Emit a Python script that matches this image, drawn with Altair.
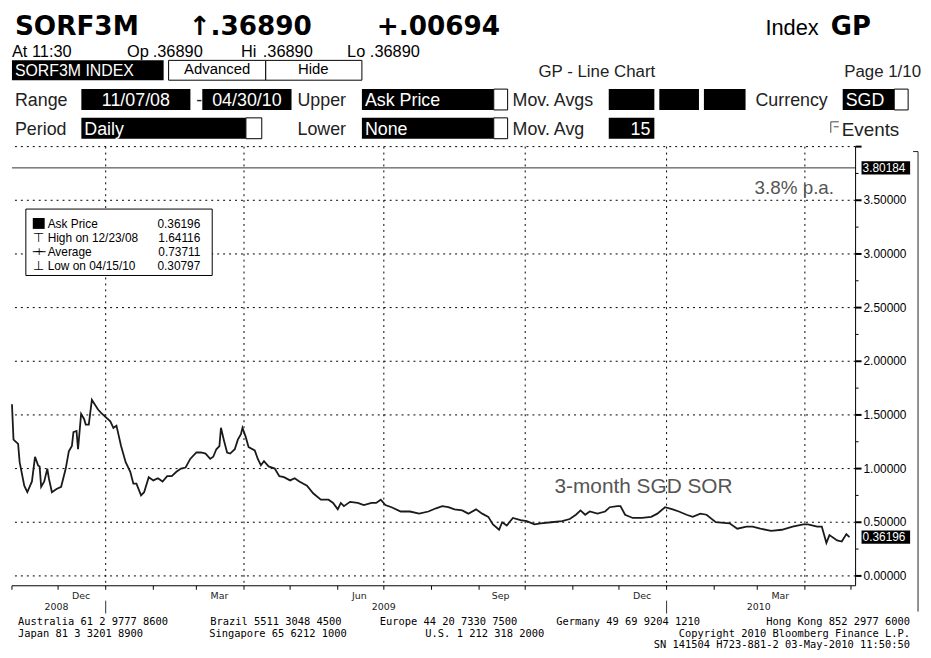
import altair as alt
import pandas as pd

# ---------------- data ----------------
dates = [
    "2008-11-01", "2008-11-02", "2008-11-05", "2008-11-06", "2008-11-09", "2008-11-11", "2008-11-14",
    "2008-11-16", "2008-11-18", "2008-11-19", "2008-11-20", "2008-11-22", "2008-11-24", "2008-11-25",
    "2008-11-27", "2008-11-30",
    "2008-12-03", "2008-12-06", "2008-12-08", "2008-12-10", "2008-12-11", "2008-12-13", "2008-12-14",
    "2008-12-16", "2008-12-18", "2008-12-19", "2008-12-21", "2008-12-23", "2008-12-27", "2008-12-29",
    "2009-01-01", "2009-01-04", "2009-01-06", "2009-01-08", "2009-01-11", "2009-01-14", "2009-01-17",
    "2009-01-19", "2009-01-21", "2009-01-24", "2009-01-26", "2009-01-29",
    "2009-02-01", "2009-02-04", "2009-02-07", "2009-02-10", "2009-02-13", "2009-02-16", "2009-02-19",
    "2009-02-22", "2009-02-25",
    "2009-03-01", "2009-03-04", "2009-03-07", "2009-03-10", "2009-03-12", "2009-03-14", "2009-03-16",
    "2009-03-17", "2009-03-19", "2009-03-21", "2009-03-23", "2009-03-26", "2009-03-28", "2009-03-30",
    "2009-03-31",
    "2009-04-02", "2009-04-04", "2009-04-08", "2009-04-10", "2009-04-12", "2009-04-14", "2009-04-17",
    "2009-04-21", "2009-04-24", "2009-04-27",
    "2009-05-01", "2009-05-04", "2009-05-07", "2009-05-12", "2009-05-16", "2009-05-21", "2009-05-26",
    "2009-05-29",
    "2009-06-01", "2009-06-03", "2009-06-05", "2009-06-09", "2009-06-14", "2009-06-18", "2009-06-23",
    "2009-06-26", "2009-06-29",
    "2009-07-02", "2009-07-06", "2009-07-12", "2009-07-18", "2009-07-24", "2009-07-30",
    "2009-08-04", "2009-08-08", "2009-08-12", "2009-08-16", "2009-08-21", "2009-08-25", "2009-08-30",
    "2009-09-03", "2009-09-07", "2009-09-10", "2009-09-14", "2009-09-16", "2009-09-19", "2009-09-23",
    "2009-09-28",
    "2009-10-02", "2009-10-07", "2009-10-11", "2009-10-18", "2009-10-25", "2009-10-30",
    "2009-11-03", "2009-11-06", "2009-11-09", "2009-11-12", "2009-11-17", "2009-11-22", "2009-11-25",
    "2009-11-30",
    "2009-12-02", "2009-12-05", "2009-12-10", "2009-12-16", "2009-12-22", "2009-12-26", "2009-12-31",
    "2010-01-05", "2010-01-09", "2010-01-14", "2010-01-18", "2010-01-23", "2010-01-27",
    "2010-02-02", "2010-02-11", "2010-02-16", "2010-02-22", "2010-02-26",
    "2010-03-03", "2010-03-10", "2010-03-17", "2010-03-24", "2010-03-31",
    "2010-04-03", "2010-04-09", "2010-04-12", "2010-04-15", "2010-04-17", "2010-04-22", "2010-04-25",
    "2010-04-28", "2010-04-30",
]
ask_price = [
    1.60, 1.27, 1.23, 1.06, 0.84, 0.78, 0.88, 1.11, 1.03, 1.02, 0.83, 0.88, 1.00, 0.91, 0.78, 0.81,
    0.83, 1.00, 1.16, 1.21, 1.34, 1.35, 1.18, 1.51, 1.46, 1.41, 1.41, 1.64116, 1.55, 1.52,
    1.48, 1.44, 1.38, 1.40, 1.21, 1.06, 0.97, 0.86, 0.86, 0.75, 0.78, 0.92,
    0.89, 0.91, 0.88, 0.93, 0.93, 0.97, 1.00, 1.01, 1.09,
    1.15, 1.15, 1.14, 1.09, 1.11, 1.18, 1.21, 1.38, 1.26, 1.15, 1.14, 1.18, 1.27, 1.32, 1.38,
    1.30, 1.20, 1.17, 1.09, 1.03, 1.07, 1.02, 1.00, 0.93, 0.92,
    0.89, 0.91, 0.88, 0.84, 0.77, 0.71, 0.71, 0.68,
    0.62, 0.68, 0.65, 0.69, 0.68, 0.66, 0.68, 0.68, 0.71,
    0.66, 0.64, 0.60, 0.60, 0.58, 0.60,
    0.63, 0.65, 0.64, 0.62, 0.61, 0.58, 0.62,
    0.58, 0.55, 0.48, 0.43, 0.50, 0.47, 0.54, 0.52,
    0.51, 0.48, 0.49, 0.50, 0.51, 0.53,
    0.57, 0.61, 0.57, 0.60, 0.58, 0.60, 0.64, 0.65,
    0.65, 0.57, 0.54, 0.54, 0.55, 0.58, 0.64,
    0.62, 0.60, 0.57, 0.55, 0.58, 0.57,
    0.50, 0.49, 0.44, 0.46, 0.46,
    0.44, 0.42, 0.43, 0.46, 0.48,
    0.48, 0.46, 0.46, 0.30797, 0.38, 0.33, 0.32, 0.39, 0.36196,
]

y_ticks = [0.0, 0.5, 1.0, 1.5, 2.0, 2.5, 3.0, 3.5, 4.0]
y_labels = ["0.00000", "0.50000", "1.00000", "1.50000", "2.00000", "2.50000", "3.00000", "3.50000", ""]
y_minor = [0.25, 0.75, 1.25, 1.75, 2.25, 2.75, 3.25, 3.75]
month_ticks = ["2008-11-01", "2008-12-01", "2009-01-01", "2009-02-01", "2009-03-01", "2009-04-01",
               "2009-05-01", "2009-06-01", "2009-07-01", "2009-08-01", "2009-09-01", "2009-10-01",
               "2009-11-01", "2009-12-01", "2010-01-01", "2010-02-01", "2010-03-01", "2010-04-01",
               "2010-05-01"]
quarter_lines = ["2009-01-01", "2009-04-01", "2009-07-01", "2009-10-01", "2010-01-01", "2010-04-01"]
month_labels = ["Dec", "Mar", "Jun", "Sep", "Dec", "Mar"]
month_label_dates = ["2008-12-16", "2009-03-16", "2009-06-15", "2009-09-15", "2009-12-16", "2010-03-16"]
year_labels = ["2008", "2009", "2010"]
year_label_dates = ["2008-11-30", "2009-07-01", "2010-03-02"]
year_breaks = ["2009-01-01", "2010-01-01"]
legend_names = ["Ask Price", "High on 12/23/08", "Average", "Low on 04/15/10"]
legend_values = ["0.36196", "1.64116", "0.73711", "0.30797"]
flag_values = [3.80184, 0.36196]
flag_labels = ["3.80184", "0.36196"]
target_rate = 3.80184

# ---------------- layout ----------------
W, H = 851, 443
OX, OY = 12, 145           # page position of the plot origin
SANS = "Liberation Sans"
BOLD = "DejaVu Sans"
MONO = "DejaVu Sans Mono"


def ut(s):
    y, m, d = (int(v) for v in s.split("-"))
    return alt.DateTime(year=y, month=m, date=d, utc=True)


x_scale = alt.Scale(domain=[ut("2008-11-01"), ut("2010-05-04")])
y_scale = alt.Scale(domain=[-0.092, 4.0], nice=False, zero=False)

one = pd.DataFrame({"k": [0]})


def text_at(px, py, s, size=18, color="#222", font=SANS, weight="normal", align="left",
            baseline="alphabetic"):
    return alt.Chart(one).mark_text(text=s, font=font, fontSize=size, color=color, fontWeight=weight,
                                    align=align, baseline=baseline).encode(
        x=alt.value(px - OX), y=alt.value(py - OY))


def box_at(x1, y1, x2, y2, fill="black", stroke=None):
    kw = dict(fill=fill)
    if stroke:
        kw.update(stroke=stroke, strokeWidth=1)
    return alt.Chart(one).mark_rect(**kw).encode(
        x=alt.value(x1 - OX), x2=alt.value(x2 - OX), y=alt.value(y1 - OY), y2=alt.value(y2 - OY))


def seg_at(x1, y1, x2, y2, color="black", width=1):
    return alt.Chart(one).mark_rule(color=color, strokeWidth=width).encode(
        x=alt.value(x1 - OX), x2=alt.value(x2 - OX), y=alt.value(y1 - OY), y2=alt.value(y2 - OY))


layers = []

# horizontal dotted grid (value levels)
ydf = pd.DataFrame({"v": y_ticks, "lab": y_labels})
layers.append(alt.Chart(ydf).mark_rule(color="black", strokeDash=[2, 4], strokeWidth=1).encode(
    y=alt.Y("v:Q", scale=y_scale, axis=None)))
# vertical dotted grid (quarters)
qdf = pd.DataFrame({"d": quarter_lines})
layers.append(alt.Chart(qdf).mark_rule(color="black", strokeDash=[2, 4], strokeWidth=1).encode(
    x=alt.X("d:T", scale=x_scale, axis=None)))

# target rate line
layers.append(alt.Chart(one).mark_rule(color="#333", strokeWidth=1).encode(
    y=alt.YDatum(target_rate, scale=y_scale, axis=None)))

# main series
df = pd.DataFrame({"date": dates, "price": ask_price})
layers.append(alt.Chart(df).mark_line(color="#1a1a1a", strokeWidth=1.8).encode(
    x=alt.X("date:T", scale=x_scale, axis=None),
    y=alt.Y("price:Q", scale=y_scale, axis=None)))

# right value axis (drawn by hand, Bloomberg style)
layers.append(alt.Chart(one).mark_rule(color="black").encode(
    x=alt.value(W), y=alt.value(0), y2=alt.value(H)))
layers.append(alt.Chart(ydf).mark_rule(color="black", strokeWidth=2).encode(
    x=alt.value(W), x2=alt.value(W + 6), y=alt.Y("v:Q", scale=y_scale, axis=None)))
mdf = pd.DataFrame({"v": y_minor})
layers.append(alt.Chart(mdf).mark_rule(color="black", strokeWidth=1).encode(
    x=alt.value(W), x2=alt.value(W + 3), y=alt.Y("v:Q", scale=y_scale, axis=None)))
layers.append(alt.Chart(ydf).mark_text(font=SANS, fontSize=12, color="black", align="left",
                                       baseline="middle").encode(
    x=alt.value(W + 8), y=alt.Y("v:Q", scale=y_scale, axis=None), text="lab:N"))

# bottom time axis
layers.append(alt.Chart(one).mark_rule(color="black").encode(
    x=alt.value(0), x2=alt.value(W), y=alt.value(H)))
mtdf = pd.DataFrame({"d": month_ticks})
layers.append(alt.Chart(mtdf).mark_rule(color="black").encode(
    x=alt.X("d:T", scale=x_scale, axis=None), y=alt.value(H), y2=alt.value(H + 4)))

# flagged price labels on right axis
fdf = pd.DataFrame({"v": flag_values, "lab": flag_labels})
layers.append(alt.Chart(fdf).transform_calculate(top="datum.v + 0.062", bot="datum.v - 0.062")
              .mark_rect(color="black").encode(
    x=alt.value(W + 6), x2=alt.value(W + 55),
    y=alt.Y("top:Q", scale=y_scale, axis=None), y2="bot:Q"))
layers.append(alt.Chart(fdf).mark_text(color="white", font=SANS, fontSize=12, align="left",
                                       baseline="middle").encode(
    x=alt.value(W + 7), y=alt.Y("v:Q", scale=y_scale, axis=None), text="lab:N"))

# month and year labels under the axis
mldf = pd.DataFrame({"d": month_label_dates, "lab": month_labels})
layers.append(alt.Chart(mldf).mark_text(font=BOLD, fontSize=9.5, color="#222", baseline="middle").encode(
    x=alt.X("d:T", scale=x_scale, axis=None), y=alt.value(H + 10), text="lab:N"))
yldf = pd.DataFrame({"d": year_label_dates, "lab": year_labels})
layers.append(alt.Chart(yldf).mark_text(font=BOLD, fontSize=9.5, color="#222", baseline="middle").encode(
    x=alt.X("d:T", scale=x_scale, axis=None), y=alt.value(H + 21), text="lab:N"))
ybdf = pd.DataFrame({"d": year_breaks})
layers.append(alt.Chart(ybdf).mark_rule(color="#333").encode(
    x=alt.X("d:T", scale=x_scale, axis=None), y=alt.value(H + 15), y2=alt.value(H + 28)))

# annotations
layers.append(alt.Chart(one).mark_text(text="3.8% p.a.", font=SANS, fontSize=19, color="#555",
                                       align="right", baseline="middle").encode(
    x=alt.XDatum(ut("2010-04-20"), scale=x_scale, axis=None),
    y=alt.YDatum(3.61, scale=y_scale, axis=None)))
layers.append(alt.Chart(one).mark_text(text="3-month SGD SOR", font=SANS, fontSize=21, color="#555",
                                       align="center", baseline="middle").encode(
    x=alt.XDatum(ut("2009-12-17"), scale=x_scale, axis=None),
    y=alt.YDatum(0.83, scale=y_scale, axis=None)))

# legend box
layers.append(box_at(26, 208, 214, 275, fill="white", stroke="black"))
layers.append(box_at(33, 217, 45, 228, fill="black"))
rows_y = [223, 237, 251, 265]
for name, val, ry in zip(legend_names, legend_values, rows_y):
    layers.append(text_at(48, ry, name, size=12, color="black", baseline="middle"))
    layers.append(text_at(202, ry, val, size=12, color="black", align="right", baseline="middle"))
layers.append(text_at(39, 237, "⊤", size=13, color="black", font=BOLD, align="center", baseline="middle"))
layers.append(seg_at(33, 251, 46, 251))
layers.append(text_at(39.5, 251, "+", size=10, color="black", font=BOLD, align="center", baseline="middle"))
layers.append(text_at(39, 265, "⊥", size=13, color="black", font=BOLD, align="center", baseline="middle"))

# right frame
layers.append(seg_at(926, 150, 926, 614, color="#222"))
layers.append(seg_at(921, 150, 926, 150, color="#222"))

# ---------------- header ----------------
layers.append(text_at(15, 32.5, "SORF3M", size=26.5, color="black", font=BOLD, weight="bold"))
layers.append(text_at(190, 32.5, "↑.36890", size=26.5, color="black", font=BOLD, weight="bold"))
layers.append(text_at(380, 32.5, "+.00694", size=26.5, color="black", font=BOLD, weight="bold"))
layers.append(text_at(772, 32, "Index", size=22, color="black"))
layers.append(text_at(838, 32, "GP", size=26, color="black", font=BOLD, weight="bold"))

layers.append(text_at(12, 54.5, "At 11:30", size=16.5, color="black"))
layers.append(text_at(128, 54.5, "Op", size=16.5, color="black"))
layers.append(text_at(154, 54.5, ".36890", size=16.5, color="black"))
layers.append(text_at(243, 54.5, "Hi", size=16.5, color="black"))
layers.append(text_at(265, 54.5, ".36890", size=16.5, color="black"))
layers.append(text_at(350, 54.5, "Lo", size=16.5, color="black"))
layers.append(text_at(373, 54.5, ".36890", size=16.5, color="black"))

# row 2
layers.append(box_at(12, 58, 165, 78))
layers.append(text_at(15, 74, "SORF3M INDEX", size=16, color="white"))
layers.append(box_at(170, 58, 268, 78, fill="white", stroke="black"))
layers.append(text_at(219, 72, "Advanced", size=15, color="black", align="center"))
layers.append(box_at(268, 58, 365, 78, fill="white", stroke="black"))
layers.append(text_at(316, 72, "Hide", size=15, color="black", align="center"))
layers.append(text_at(602, 75, "GP - Line Chart", size=17, color="#222", align="center"))
layers.append(text_at(929, 75, "Page 1/10", size=17, color="#222", align="right"))

# row 3
layers.append(text_at(15, 104, "Range", size=18))
layers.append(box_at(82, 87, 192, 108))
layers.append(text_at(137, 104, "11/07/08", size=18, color="white", align="center"))
layers.append(text_at(198, 104, "-", size=18))
layers.append(box_at(204, 87, 294, 108))
layers.append(text_at(249, 104, "04/30/10", size=18, color="white", align="center"))
layers.append(text_at(300, 104, "Upper", size=18))
layers.append(box_at(365, 87, 498, 108))
layers.append(text_at(368, 104, "Ask Price", size=18, color="white"))
layers.append(box_at(498, 87, 512, 108, fill="white", stroke="black"))
layers.append(text_at(517, 104, "Mov. Avgs", size=18))
layers.append(box_at(614, 87, 660, 108))
layers.append(box_at(665, 87, 705, 108))
layers.append(box_at(710, 87, 752, 108))
layers.append(text_at(762, 104, "Currency", size=18))
layers.append(box_at(850, 87, 902, 108))
layers.append(text_at(853, 104, "SGD", size=18, color="white"))
layers.append(box_at(902, 87, 916, 108, fill="white", stroke="black"))

# row 4
layers.append(text_at(15, 133, "Period", size=18))
layers.append(box_at(82, 116, 248, 137))
layers.append(text_at(85, 133, "Daily", size=18, color="white"))
layers.append(box_at(248, 116, 264, 137, fill="white", stroke="black"))
layers.append(text_at(300, 133, "Lower", size=18))
layers.append(box_at(365, 116, 498, 137))
layers.append(text_at(368, 133, "None", size=18, color="white"))
layers.append(box_at(498, 116, 512, 137, fill="white", stroke="black"))
layers.append(text_at(517, 133, "Mov. Avg", size=18))
layers.append(box_at(614, 116, 660, 137))
layers.append(text_at(656, 133, "15", size=18, color="white", align="right"))
layers.append(seg_at(838, 120, 846, 120, color="#444"))
layers.append(seg_at(838, 120, 838, 131, color="#444"))
layers.append(seg_at(841, 125, 846, 125, color="#444"))
layers.append(text_at(849, 134, "Events", size=19))

# footer
FS = 10.5
layers.append(text_at(18, 628, "Australia 61 2 9777 8600", size=FS, color="black", font=MONO))
layers.append(text_at(212, 628, "Brazil 5511 3048 4500", size=FS, color="black", font=MONO))
layers.append(text_at(383, 628, "Europe 44 20 7330 7500", size=FS, color="black", font=MONO))
layers.append(text_at(561, 628, "Germany 49 69 9204 1210", size=FS, color="black", font=MONO))
layers.append(text_at(918, 628, "Hong Kong 852 2977 6000", size=FS, color="black", font=MONO,
                      align="right"))
layers.append(text_at(18, 639.5, "Japan 81 3 3201 8900", size=FS, color="black", font=MONO))
layers.append(text_at(211, 639.5, "Singapore 65 6212 1000", size=FS, color="black", font=MONO))
layers.append(text_at(429, 639.5, "U.S. 1 212 318 2000", size=FS, color="black", font=MONO))
layers.append(text_at(918, 639.5, "Copyright 2010 Bloomberg Finance L.P.", size=FS, color="black",
                      font=MONO, align="right"))
layers.append(text_at(918, 651, "SN 141504 H723-881-2 03-May-2010 11:50:50", size=FS, color="black",
                      font=MONO, align="right"))

chart = (
    alt.layer(*layers)
    .properties(width=W, height=H,
                padding={"left": 4, "top": 137, "right": 68, "bottom": 68},
                autosize=alt.AutoSizeParams(type="none"))
    .configure(background="white")
    .configure_view(stroke=None)
)

chart.save("out.html", embed_options={"renderer": "svg", "actions": False})
